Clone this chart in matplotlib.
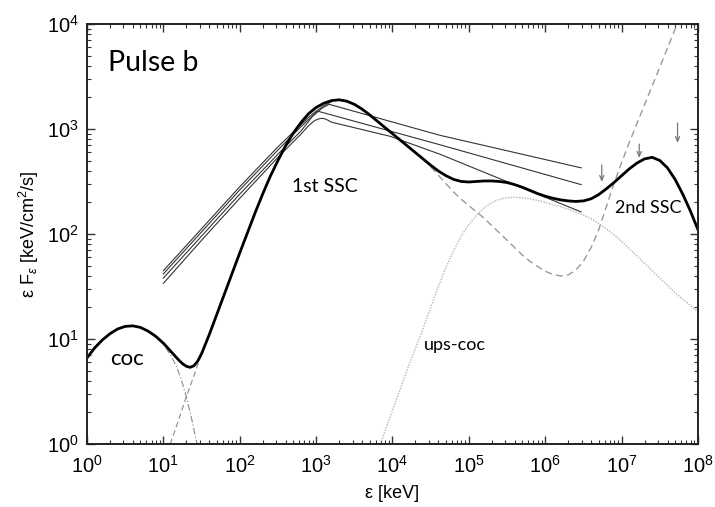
import numpy as np
import matplotlib
matplotlib.use("Agg")
import matplotlib.pyplot as plt
from matplotlib.ticker import FixedLocator, NullFormatter

plt.rcParams['font.family'] = ['Liberation Sans', 'DejaVu Sans']
plt.rcParams['mathtext.fontset'] = 'custom'
plt.rcParams['mathtext.rm'] = 'Liberation Sans'
plt.rcParams['mathtext.it'] = 'Liberation Sans:italic'

# ---- data (log10 of energy [keV] and of eF_e [keV/cm^2/s]) ----
total_log_e = [0.0, 0.1, 0.2, 0.3, 0.4, 0.5, 0.6, 0.7, 0.8, 0.9, 1.0, 1.1, 1.2, 1.25, 1.3,
               1.35, 1.4, 1.45, 1.5, 1.55, 1.6, 1.7, 1.8, 1.9, 2.0, 2.1, 2.2, 2.3, 2.4,
               2.5, 2.6, 2.7, 2.8, 2.9, 3.0, 3.1, 3.2, 3.3, 3.4, 3.5, 3.6, 3.7, 3.8, 3.9,
               4.0, 4.1, 4.2, 4.3, 4.4, 4.5, 4.6, 4.7, 4.8, 4.9, 5.0, 5.1, 5.2, 5.3, 5.4,
               5.5, 5.6, 5.7, 5.8, 5.9, 6.0, 6.1, 6.2, 6.3, 6.4, 6.5, 6.6, 6.7, 6.8, 6.9,
               7.0, 7.1, 7.2, 7.3, 7.4, 7.5, 7.6, 7.7, 7.8, 7.9, 8.0]
total_log_f = [0.82, 0.915, 0.99, 1.05, 1.095, 1.12, 1.125, 1.11, 1.075, 1.025, 0.96, 0.88,
               0.80, 0.765, 0.74, 0.73, 0.745, 0.79, 0.86, 0.95, 1.04, 1.235, 1.43, 1.625,
               1.82, 2.01, 2.20, 2.38, 2.55, 2.70, 2.84, 2.96, 3.06, 3.145, 3.205, 3.245,
               3.27, 3.278, 3.265, 3.235, 3.19, 3.135, 3.075, 3.015, 2.955, 2.895, 2.835,
               2.775, 2.715, 2.655, 2.60, 2.555, 2.52, 2.50, 2.495, 2.50, 2.505, 2.505,
               2.50, 2.49, 2.47, 2.445, 2.415, 2.385, 2.36, 2.34, 2.325, 2.315, 2.31,
               2.315, 2.335, 2.375, 2.43, 2.49, 2.555, 2.62, 2.675, 2.715, 2.73, 2.70,
               2.63, 2.52, 2.38, 2.22, 2.04]

coc_log_e = [0.8, 0.9, 1.0, 1.1, 1.17, 1.24, 1.30, 1.37, 1.44]
coc_log_f = [1.075, 1.025, 0.95, 0.84, 0.74, 0.60, 0.45, 0.24, 0.0]

ssc1_rise_log_e = [1.09, 1.2, 1.3, 1.4, 1.48, 1.55]
ssc1_rise_log_f = [0.0, 0.23, 0.45, 0.65, 0.82, 0.95]

ssc_dash_log_e = [4.4, 4.5, 4.6, 4.7, 4.8, 4.9, 5.0, 5.1, 5.2, 5.3, 5.4, 5.5, 5.6, 5.7, 5.8,
                  5.9, 6.0, 6.1, 6.2, 6.3, 6.4, 6.5, 6.6, 6.7, 6.8, 6.9, 7.0, 7.1, 7.2,
                  7.3, 7.4, 7.5, 7.6, 7.7, 7.8]
ssc_dash_log_f = [2.715, 2.64, 2.56, 2.48, 2.40, 2.33, 2.27, 2.21, 2.15, 2.08, 2.01, 1.94,
                  1.87, 1.80, 1.74, 1.69, 1.645, 1.615, 1.60, 1.61, 1.655, 1.74, 1.87, 2.04,
                  2.26, 2.48, 2.68, 2.87, 3.05, 3.23, 3.41, 3.59, 3.77, 3.95, 4.13]

ups_log_e = [3.84, 3.9, 4.0, 4.1, 4.2, 4.3, 4.4, 4.5, 4.6, 4.7, 4.8, 4.9, 5.0, 5.1, 5.2,
             5.3, 5.4, 5.5, 5.6, 5.7, 5.8, 5.9, 6.0, 6.1, 6.2, 6.3, 6.4, 6.5, 6.6, 6.7,
             6.8, 6.9, 7.0, 7.1, 7.2, 7.3, 7.4, 7.5, 7.6, 7.7, 7.8, 7.9, 8.0]
ups_log_f = [0.0, 0.12, 0.32, 0.52, 0.72, 0.91, 1.10, 1.30, 1.50, 1.68, 1.84, 1.98, 2.09,
             2.18, 2.25, 2.30, 2.33, 2.345, 2.35, 2.345, 2.335, 2.32, 2.30, 2.28, 2.26,
             2.235, 2.21, 2.18, 2.145, 2.10, 2.05, 1.99, 1.93, 1.86, 1.79, 1.72, 1.65,
             1.58, 1.51, 1.44, 1.38, 1.32, 1.26]

thin0_log_e = [1.0, 1.5, 2.0, 2.5, 2.8, 2.9, 3.0, 3.1, 3.2]
thin0_log_f = [1.65, 2.05, 2.45, 2.83, 3.04, 3.11, 3.17, 3.22, 3.26]
thin1_log_e = [1.0, 1.5, 2.0, 2.5, 2.8, 2.9, 3.0, 3.08, 3.17, 4.62, 6.47]
thin1_log_f = [1.62, 2.02, 2.42, 2.80, 3.02, 3.09, 3.15, 3.20, 3.235, 2.94, 2.63]
thin2_log_e = [1.0, 1.5, 2.0, 2.5, 2.8, 2.9, 2.96, 3.02, 4.62, 6.47]
thin2_log_f = [1.58, 1.98, 2.38, 2.76, 2.98, 3.07, 3.13, 3.17, 2.85, 2.47]
thin3_log_e = [1.0, 1.5, 2.0, 2.5, 2.8, 2.9, 2.98, 3.05, 3.1, 3.15, 3.2, 3.97, 4.62, 6.47]
thin3_log_f = [1.53, 1.94, 2.34, 2.73, 2.95, 3.03, 3.08, 3.10, 3.10, 3.085, 3.065, 2.93,
               2.76, 2.21]

# upper-limit arrows: energy, top flux, tip flux
arrow_e = [5.5e6, 1.7e7, 5.4e7]
arrow_top = [454, 719, 1140]
arrow_tip = [313, 530, 736]

labels = ["Pulse b", "1st SSC", "2nd SSC", "coc", "ups-coc"]

x_major = [1e0, 1e1, 1e2, 1e3, 1e4, 1e5, 1e6, 1e7, 1e8]
y_major = [1e0, 1e1, 1e2, 1e3, 1e4]

def lin(a):
    return 10 ** np.asarray(a)

def minors(majors):
    return [m * k for m in majors[:-1] for k in range(2, 10)]

fig = plt.figure(figsize=(7.15, 5.07), dpi=100)
ax = fig.add_axes([0.1217, 0.1243, 0.8545, 0.8284])
ax.set_xscale('log')
ax.set_yscale('log')
ax.set_xlim(1, 1e8)
ax.set_ylim(1, 1e4)

gray_dash = '#8a8a8a'
ax.plot(lin(coc_log_e), lin(coc_log_f), color=gray_dash, lw=0.8, ls=(0, (6, 2, 1, 2)))
ax.plot(lin(ssc1_rise_log_e), lin(ssc1_rise_log_f), color=gray_dash, lw=0.8, ls=(0, (5, 3)))
ax.plot(lin(ssc_dash_log_e), lin(ssc_dash_log_f), color='#9a9a9a', lw=1.0, ls=(0, (5, 3)))
ax.plot(lin(ups_log_e), lin(ups_log_f), color='#b5b5b5', lw=1.0, ls=(0, (1, 1)))

for le, lf in [(thin0_log_e, thin0_log_f), (thin1_log_e, thin1_log_f),
               (thin2_log_e, thin2_log_f), (thin3_log_e, thin3_log_f)]:
    ax.plot(lin(le), lin(lf), color='#333333', lw=0.8)

ax.plot(lin(total_log_e), lin(total_log_f), color='black', lw=2.0,
        solid_capstyle='round', solid_joinstyle='round')

for e, t, b in zip(arrow_e, arrow_top, arrow_tip):
    ax.annotate('', xy=(e, b), xytext=(e, t),
                arrowprops=dict(arrowstyle='->,head_length=0.35,head_width=0.15',
                                color='#777777', lw=0.9, shrinkA=0, shrinkB=0))

tfont = ['Lato', 'DejaVu Sans']
ax.text(1.88, 3550, labels[0], fontsize=20.5, family=tfont, va='baseline')
ax.text(478, 253, labels[1], fontsize=14, family=tfont, va='baseline')
ax.text(8.3e6, 157, labels[2], fontsize=13, family=tfont, va='baseline')
ax.text(2.0, 5.65, labels[3], fontsize=16, family=tfont, va='baseline')
ax.text(2.6e4, 7.85, labels[4], fontsize=13, family=tfont, va='baseline')

ax.xaxis.set_major_locator(FixedLocator(x_major))
ax.xaxis.set_minor_locator(FixedLocator(minors(x_major)))
ax.xaxis.set_minor_formatter(NullFormatter())
ax.yaxis.set_major_locator(FixedLocator(y_major))
ax.yaxis.set_minor_locator(FixedLocator(minors(y_major)))
ax.yaxis.set_minor_formatter(NullFormatter())
ax.tick_params(which='both', direction='in', top=True, right=True, labelsize=14.5,
               color='#333333')
ax.tick_params(which='major', length=6, width=1.0)
ax.tick_params(axis='x', which='major', pad=8)
ax.tick_params(axis='y', which='major', pad=6)
ax.tick_params(which='minor', length=3, width=0.8)
for s in ax.spines.values():
    s.set_linewidth(1.4)
    s.set_color('#222222')

ax.set_xlabel('ε [keV]', fontsize=13, labelpad=6)
ax.set_ylabel('ε F$_{ε}$ [keV/cm$^2$/s]', fontsize=13, labelpad=4)

fig.savefig('out.png', dpi=100)
